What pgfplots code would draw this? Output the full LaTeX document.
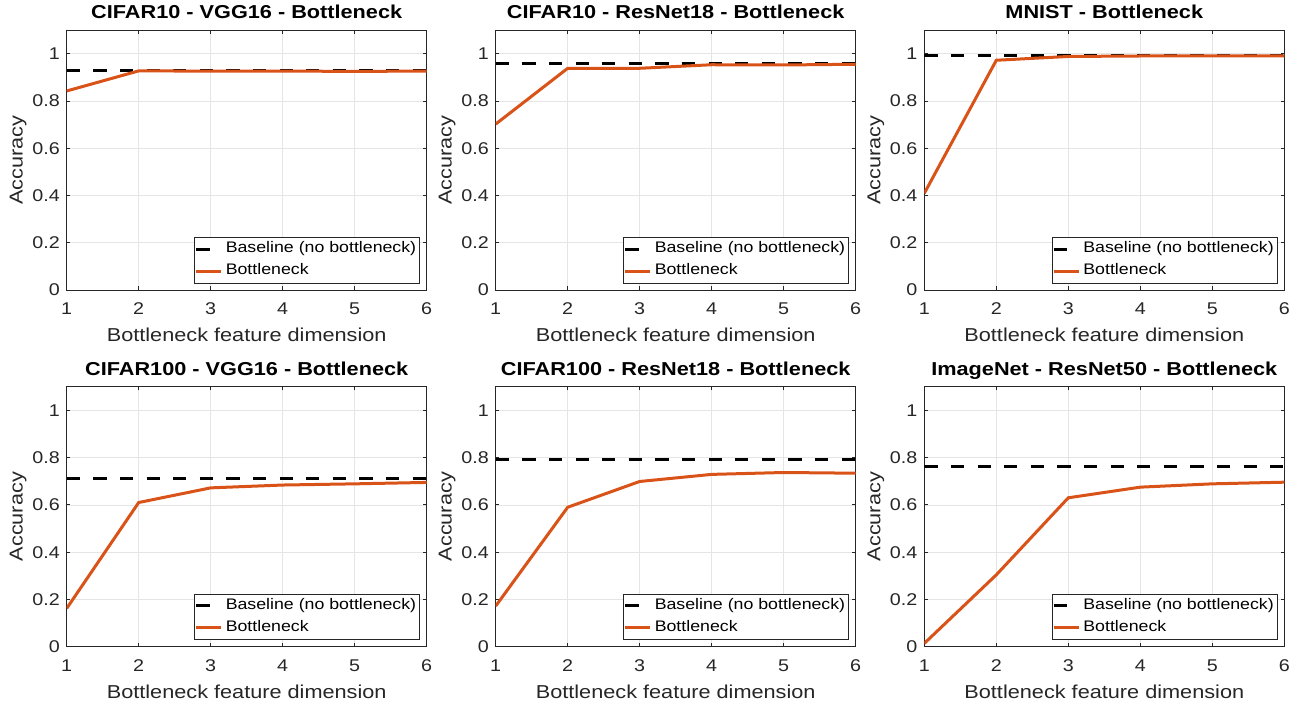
\documentclass[border=0pt]{standalone}
\usepackage{fontspec}
\setmainfont{Liberation Sans}[FakeStretch=1.16]
\usepackage{pgfplots}
\pgfplotsset{compat=1.18}

\definecolor{axgray}{rgb}{0.15,0.15,0.15}
\definecolor{gridgray}{rgb}{0.9,0.9,0.9}
\definecolor{mlorange}{rgb}{0.85,0.325,0.098}

\newcommand{\tickfont}{\fontsize{17}{20}\selectfont}
\newcommand{\labfont}{\fontsize{18.7}{22}\selectfont}
\newcommand{\titfont}{\fontsize{18.7}{22}\selectfont\bfseries}
\newcommand{\legfont}{\fontsize{15.3}{18}\selectfont}

\pgfplotsset{
  panel/.style={
    anchor=south west, scale only axis, width=360pt, height=260pt,
    xmin=1, xmax=6, ymin=0, ymax=1.1,
    xtick={1,2,3,4,5,6}, ytick={0,0.2,0.4,0.6,0.8,1},
    /pgf/number format/assume math mode=true,
    tick align=inside, tick pos=both, major tick length=3.6pt,
    grid=major, major grid style={color=gridgray, line width=0.6pt},
    axis line style={color=axgray, line width=0.8pt},
    every tick/.style={color=axgray, line width=0.8pt},
    ticklabel style={font=\tickfont, color=axgray, inner sep=0pt},
    xticklabel style={anchor=base, yshift=-25pt},
    yticklabel style={anchor=east, xshift=-6.7pt},
    every axis title/.style={at={(0.5,1)}, anchor=base, yshift=11pt, font=\titfont},
    every axis x label/.style={at={(0.5,0)}, anchor=base, yshift=-51.7pt, font=\labfont, color=axgray},
    every axis y label/.style={at={(0,0.5)}, xshift=-44pt, rotate=90, anchor=base, font=\labfont, color=axgray},
    xlabel={Bottleneck feature dimension}, ylabel={Accuracy},
    legend cell align=left,
    legend image code/.code={\draw[#1] (0pt,0pt) -- (25pt,0pt);},
    legend style={at={(1,0)}, anchor=south east, xshift=-6.7pt, yshift=6.7pt,
      draw=axgray, line width=0.6pt, fill=white, font=\legfont,
      inner xsep=0.5pt, inner ysep=0.9pt, row sep=0pt, column sep=0pt,
      nodes={inner xsep=3pt, inner ysep=3.75pt, text height=11pt, text depth=3.5pt}},
  },
  base/.style={black, line width=3pt, dash pattern=on 13.3pt off 13.3pt},
  bott/.style={mlorange, line width=3pt},
}

\newcommand{\panel}[5]{%
\begin{axis}[panel, at={(#1pt,#2pt)}, title={#3}]
\addplot[base] coordinates {(1,#4) (6,#4)};
\addplot[bott] coordinates {#5};
\legend{Baseline (no bottleneck), Bottleneck}
\end{axis}}

\begin{document}
\begin{tikzpicture}
\useasboundingbox (0pt,0pt) rectangle (1297pt,704pt);
\panel{66.7}{414}{CIFAR10 - VGG16 - Bottleneck}{0.930}
  {(1,0.842) (2,0.927) (3,0.926) (4,0.926) (5,0.925) (6,0.926)}
\panel{495.7}{414}{CIFAR10 - ResNet18 - Bottleneck}{0.958}
  {(1,0.702) (2,0.938) (3,0.938) (4,0.953) (5,0.952) (6,0.955)}
\panel{924.3}{414}{MNIST - Bottleneck}{0.994}
  {(1,0.409) (2,0.972) (3,0.988) (4,0.990) (5,0.990) (6,0.991)}
\panel{66.7}{57.3}{CIFAR100 - VGG16 - Bottleneck}{0.713}
  {(1,0.162) (2,0.610) (3,0.672) (4,0.684) (5,0.689) (6,0.695)}
\panel{495.7}{57.3}{CIFAR100 - ResNet18 - Bottleneck}{0.794}
  {(1,0.172) (2,0.590) (3,0.699) (4,0.729) (5,0.737) (6,0.734)}
\panel{924.3}{57.3}{ImageNet - ResNet50 - Bottleneck}{0.763}
  {(1,0.014) (2,0.304) (3,0.630) (4,0.675) (5,0.689) (6,0.696)}
\end{tikzpicture}
\end{document}
